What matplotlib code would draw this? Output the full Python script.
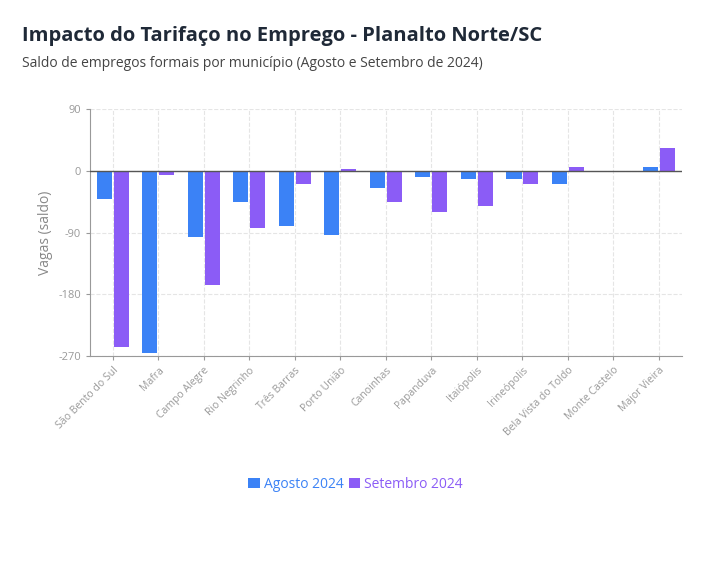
import matplotlib
matplotlib.use("Agg")
import matplotlib.pyplot as plt
import numpy as np

municipios = ["São Bento do Sul", "Mafra", "Campo Alegre", "Rio Negrinho", "Três Barras",
              "Porto União", "Canoinhas", "Papanduva", "Itaiópolis", "Irineópolis",
              "Bela Vista do Toldo", "Monte Castelo", "Major Vieira"]
agosto = [-41, -266, -97, -46, -80, -93, -25, -9, -12, -12, -19, -1, 6]
setembro = [-257, -6, -167, -84, -19, 3, -45, -60, -51, -19, 6, -2, 33]
yticks = [90, 0, -90, -180, -270]

plt.rcParams['font.family'] = ['Open Sans', 'DejaVu Sans']
fig = plt.figure(figsize=(7.26, 5.75), dpi=100)
ax = fig.add_axes([0.124, 0.381, 0.815, 0.429])
x = np.arange(len(municipios))
w = 0.33
ax.bar(x - w/2 - 0.02, agosto, w, color="#3b82f6", label="Agosto 2024", zorder=3)
ax.bar(x + w/2 + 0.02, setembro, w, color="#8b5cf6", label="Setembro 2024", zorder=3)
ax.set_xlim(-0.5, len(municipios) - 0.5)
ax.set_ylim(-270, 90)
ax.set_yticks(yticks)
ax.set_yticklabels([str(t) for t in yticks], fontsize=8, color="#555")
ax.set_xticks(x)
ax.set_xticklabels(municipios, rotation=45, ha="right", rotation_mode="anchor", fontsize=7.5, color="#555")
ax.axhline(0, color="#555", lw=1, zorder=4)
ax.grid(True, color="#e5e5e5", ls="--", lw=0.8, zorder=0)
for s in ["top", "right"]:
    ax.spines[s].set_visible(False)
for s in ["left", "bottom"]:
    ax.spines[s].set_color("#999")
ax.tick_params(length=3, colors="#999")
ax.set_ylabel("Vagas (saldo)", fontsize=10, color="#888")
fig.text(0.030, 0.938, "Impacto do Tarifaço no Emprego - Planalto Norte/SC", fontsize=14.5,
         fontweight="bold", color="#1f2937", va="center")
fig.text(0.030, 0.890, "Saldo de empregos formais por município (Agosto e Setembro de 2024)",
         fontsize=10, color="#444", va="center")
leg = fig.legend(loc="center", bbox_to_anchor=(0.49, 0.158), ncol=2, frameon=False,
                 fontsize=10, handlelength=0.8, handleheight=0.8, handletextpad=0.3, columnspacing=0.4)
for t, c in zip(leg.get_texts(), ["#3b82f6", "#8b5cf6"]):
    t.set_color(c)
fig.savefig("out.png", dpi=100, facecolor="white")
